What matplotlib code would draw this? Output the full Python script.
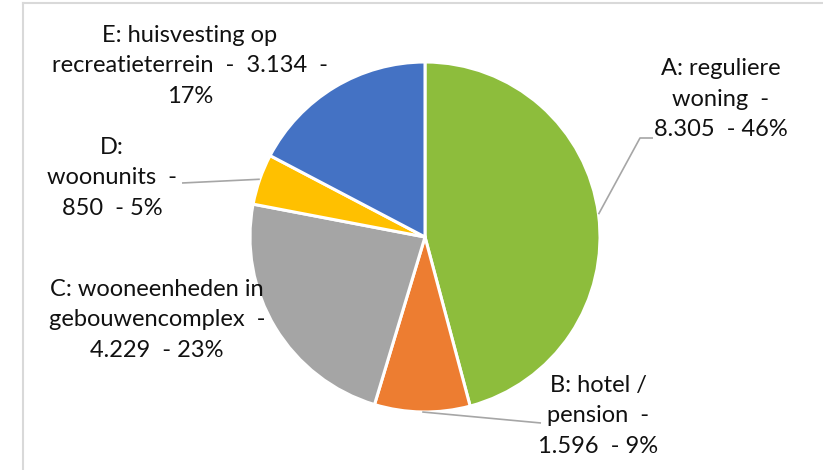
import numpy as np
import matplotlib
matplotlib.use("Agg")
import matplotlib.pyplot as plt
from matplotlib.lines import Line2D

# data
codes = ["A", "B", "C", "D", "E"]
names = ["reguliere woning", "hotel / pension", "wooneenheden in gebouwencomplex",
         "woonunits", "huisvesting op recreatieterrein"]
values = [8305, 1596, 4229, 850, 3134]
colors = ["#8DBD3C", "#ED7D31", "#A5A5A5", "#FFC000", "#4472C4"]

# how Excel wrapped each data label
templates = [
    "{c}: reguliere\nwoning  -\n{v}  - {p}%",
    "{c}: hotel /\npension  -\n{v}  - {p}%",
    "{c}: wooneenheden in\ngebouwencomplex  -\n{v}  - {p}%",
    "{c}:\nwoonunits  -\n{v}  - {p}%",
    "{c}: huisvesting op\nrecreatieterrein  -  {v}  -\n{p}%",
]

W, H = 823, 470
cx, cy, r = 425, H - 237, 175

plt.rcParams['font.family'] = ['Lato', 'DejaVu Sans']

fig = plt.figure(figsize=(W / 100, H / 100), dpi=100)
ax = fig.add_axes([0, 0, 1, 1])

wedges, _ = ax.pie(values, colors=colors, startangle=90, counterclock=False,
                   center=(cx, cy), radius=r,
                   wedgeprops=dict(edgecolor="white", linewidth=2.2))
ax.set_xlim(0, W)
ax.set_ylim(0, H)
ax.set_aspect("equal")
ax.axis("off")

total = sum(values)

def fmt(v):
    return f"{v:,}".replace(",", ".")

# label centres (pixels from top-left)
label_pos = [(721, 99), (598, 416), (157, 320), (112, 178), (190, 66)]

for i, (c, v) in enumerate(zip(codes, values)):
    pct = round(100 * v / total)
    txt = templates[i].format(c=c, v=fmt(v), p=pct)
    x, y = label_pos[i]
    ax.text(x, H - y, txt, ha="center", va="center", fontsize=17,
            linespacing=1.56, color="#111111")

# leader lines start at wedge middle on the rim
leaders = {0: [(640, 138), (653, 138)], 1: [(541, 423)], 3: [(182, 183)]}
for i, pts in leaders.items():
    w = wedges[i]
    mid = np.deg2rad((w.theta1 + w.theta2) / 2)
    x0 = cx + r * np.cos(mid)
    y0 = cy + r * np.sin(mid)
    xs = [x0] + [p[0] for p in pts]
    ys = [y0] + [H - p[1] for p in pts]
    ax.plot(xs, ys, color="#A6A6A6", lw=1.2, solid_capstyle="butt")

# chart area frame
fig.add_artist(Line2D([22.5 / W, 22.5 / W], [0, 1 - 2.5 / H], color="#D9D9D9", lw=1.5,
                      transform=fig.transFigure))
fig.add_artist(Line2D([22.5 / W, 1], [1 - 2.5 / H, 1 - 2.5 / H], color="#D9D9D9", lw=1.5,
                      transform=fig.transFigure))

fig.savefig("out.png", dpi=100)
